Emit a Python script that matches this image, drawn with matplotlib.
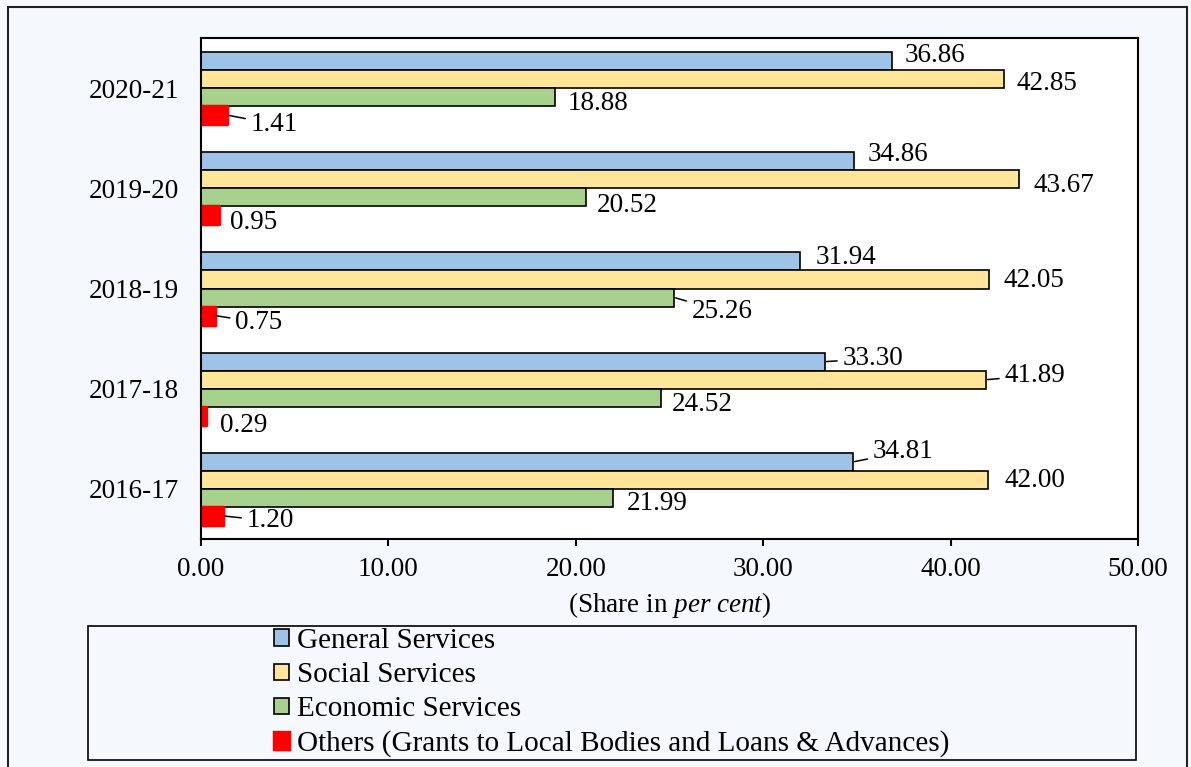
import matplotlib
matplotlib.use("Agg")
import matplotlib.pyplot as plt
from matplotlib.patches import Rectangle
import numpy as np

# data, bottom to top
years = ["2016-17", "2017-18", "2018-19", "2019-20", "2020-21"]
general = [34.81, 33.30, 31.94, 34.86, 36.86]
social = [42.00, 41.89, 42.05, 43.67, 42.85]
economic = [21.99, 24.52, 25.26, 20.52, 18.88]
others = [1.20, 0.29, 0.75, 0.95, 1.41]
names = ["General Services", "Social Services", "Economic Services",
         "Others (Grants to Local Bodies and Loans & Advances)"]

# label placement (pixel offsets from bar end) and leader lines
offsets = [
    [(50, 10), (48, 3), (46, 4), (44, 7), (43, 6)],
    [(47, -1), (49, 4), (45, -1), (44, -6), (43, -4)],
    [(44, -6), (42, -7), (48, -14), (42, -8), (43, -6)],
    [(47, -5), (37, -10), (44, -7), (35, -7), (47, -9)],
]
leaders = [
    [True, True, False, False, False],
    [False, True, False, False, False],
    [False, False, True, False, False],
    [True, False, True, False, True],
]

colors = ["#9DC3E6", "#FFE699", "#A9D18E", "#FF0000"]
bg = "#F5F8FC"

plt.rcParams["font.family"] = ["Liberation Serif", "DejaVu Serif"]
plt.rcParams["font.size"] = 19.5
plt.rcParams["mathtext.fontset"] = "custom"
plt.rcParams["mathtext.rm"] = "Liberation Serif"
plt.rcParams["mathtext.it"] = "Liberation Serif:italic"

fig = plt.figure(figsize=(11.91, 7.67), dpi=100, facecolor=bg)
ax = fig.add_axes([201 / 1191, 1 - 539 / 767, 937 / 1191, 501 / 767])
ax.set_facecolor("white")

y = np.arange(len(years))
h = 0.18
shifts = [0.27, 0.09, -0.09, -0.27]
series = [general, social, economic, others]

for k, vals in enumerate(series):
    pos = y + shifts[k]
    if k < 3:
        ax.barh(pos, vals, height=h, color=colors[k], edgecolor="black",
                linewidth=1.2, label=names[k], zorder=2)
    else:
        ax.barh(pos, vals, height=h, color=colors[k], edgecolor=colors[k],
                linewidth=2.5, joinstyle="round", label=names[k], zorder=2)
    for i, v in enumerate(vals):
        dx, dy = offsets[k][i]
        ap = None
        if leaders[k][i]:
            ap = dict(arrowstyle="-", color="black", lw=1.1, shrinkA=2, shrinkB=1)
        ax.annotate(f"{v:.2f}", xy=(v, pos[i]), xytext=(dx, dy),
                    textcoords="offset pixels", ha="center", va="center",
                    arrowprops=ap, zorder=3)

ax.set_xlim(0, 50)
ax.set_ylim(-0.5, 4.5)
ax.set_xticks(np.arange(0, 51, 10))
ax.set_xticklabels([f"{t:.2f}" for t in np.arange(0, 51, 10)])
ax.set_yticks(y)
ax.set_yticklabels(years)
ax.tick_params(axis="x", direction="out", length=5, width=1.5, pad=8)
ax.tick_params(axis="y", length=0, pad=16)
for s in ax.spines.values():
    s.set_linewidth(1.5)
ax.set_xlabel(r"(Share in $\mathit{per\ cent}$)", labelpad=6)

# legend frame and figure border
fig.patches.append(Rectangle((88 / 1191, 1 - 760 / 767), 1048 / 1191, 134 / 767,
                             transform=fig.transFigure, fill=False,
                             edgecolor="black", linewidth=1.2))
fig.patches.append(Rectangle((8 / 1191, -0.1), 1179 / 1191, 1.1 - 7 / 767,
                             transform=fig.transFigure, fill=False,
                             edgecolor="#222222", linewidth=1.5))

handles, labels = ax.get_legend_handles_labels()
fig.legend(handles, labels, loc="upper left", fontsize=21,
           bbox_to_anchor=(274 / 1191, 1 - 628 / 767), frameon=False,
           handlelength=0.5, handleheight=0.5, handletextpad=0.3,
           labelspacing=0.28, borderpad=0.0, borderaxespad=0.0)

fig.savefig("out.png", dpi=100, facecolor=bg)
